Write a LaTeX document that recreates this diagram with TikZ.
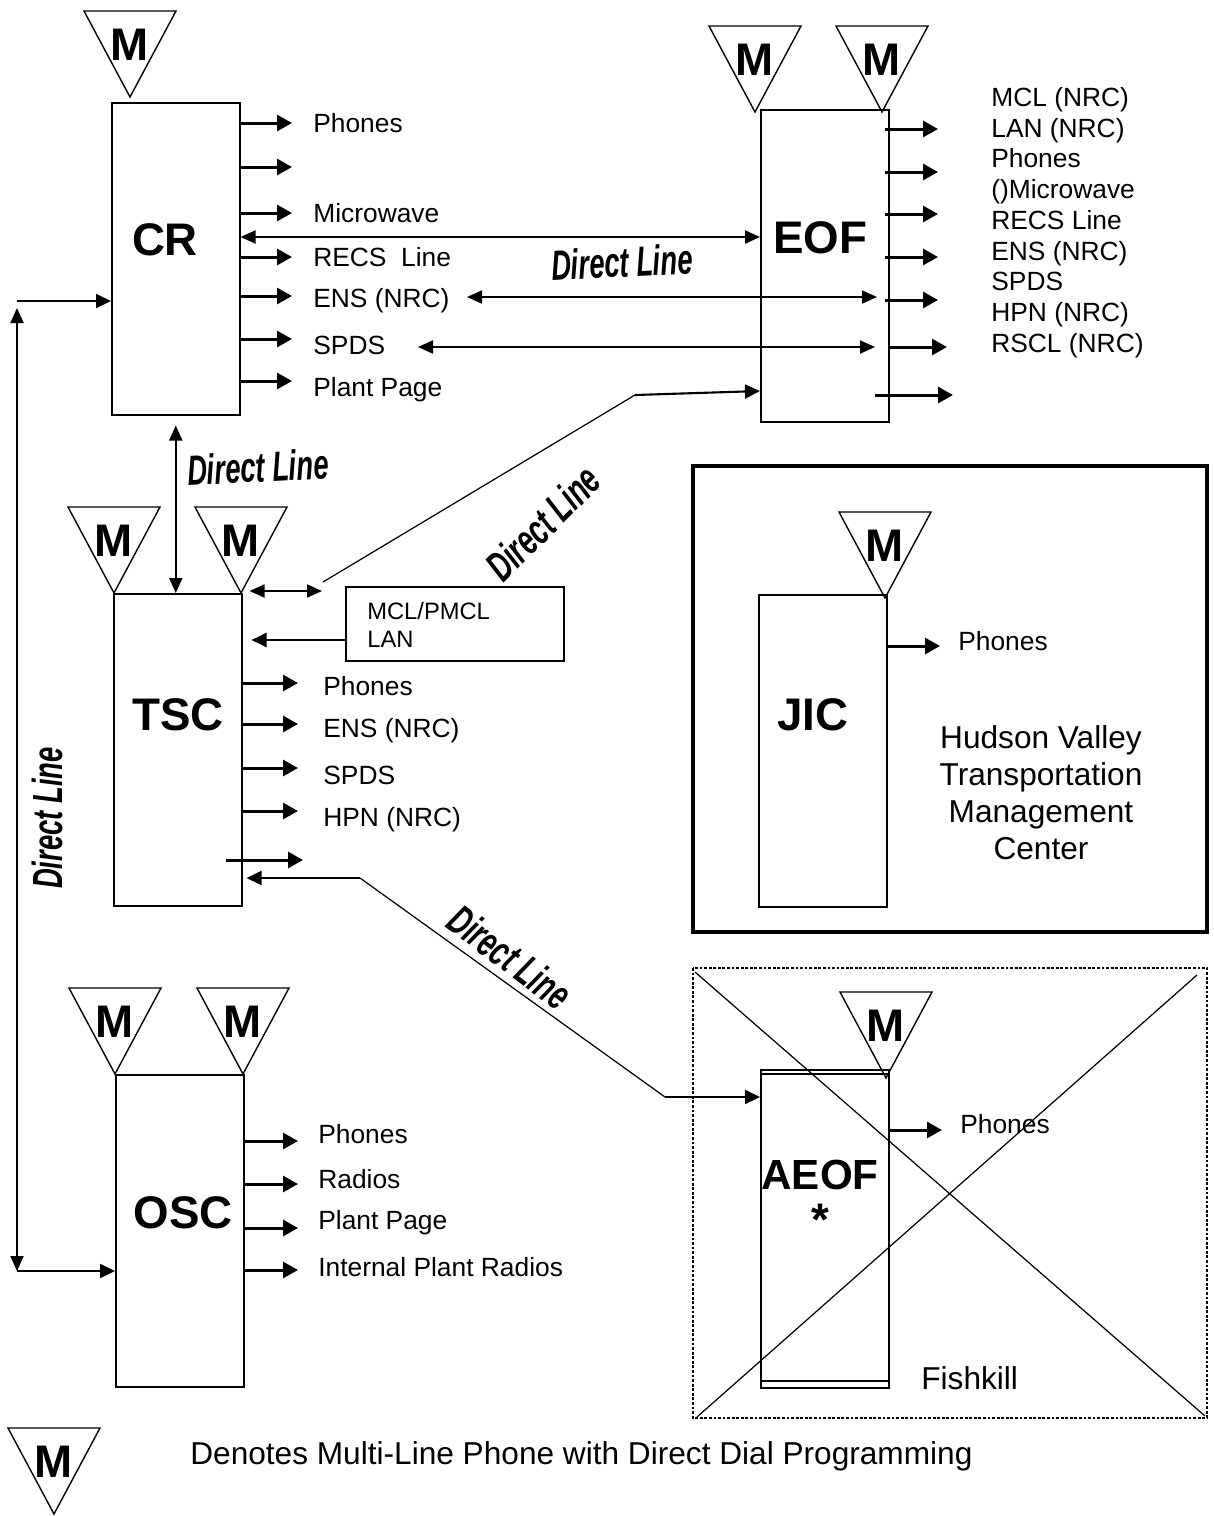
\documentclass[tikz,border=0pt]{standalone}
\usepackage{fontspec}
\setmainfont{Liberation Sans}
\usetikzlibrary{arrows.meta,calc,positioning}

\tikzset{
  unit/.style={draw, line width=0.9pt, minimum width=2.56cm, minimum height=6.24cm, inner sep=0pt, anchor=north west},
  site/.style={inner sep=0pt, font=\fontsize{26}{26}\selectfont\bfseries},
  mfont/.style={inner sep=0pt, font=\fontsize{26}{26}\selectfont\bfseries},
  item/.style={anchor=west, inner sep=0pt, font=\fontsize{15}{18}\selectfont},
  feed/.style={line width=1.7pt, -{Triangle[length=0.3cm,width=0.32cm]}},
  link/.style={line width=1.2pt, -{Triangle[length=0.3cm,width=0.28cm]}},
  dline/.style={line width=1.1pt, {Triangle[length=0.3cm,width=0.26cm]}-{Triangle[length=0.3cm,width=0.26cm]}},
  wire/.style={line width=0.7pt},
  tag/.style={rotate=#1, xscale=0.65, inner sep=0pt, font=\fontsize{24}{24}\selectfont\bfseries\itshape},
  tag/.default=0
}

% multi-line phone: name, apex
\newcommand{\phoneM}[2]{%
  \coordinate (#1) at (#2);
  \draw[line width=0.8pt] (#1) -- ++(-46,-86) -- ++(92,0) -- cycle;
  \node[mfont] (#1M) at ($(#1)+(0,-52)$) {M};}

\begin{document}
\begin{tikzpicture}[x=0.02cm,y=-0.02cm]
  \useasboundingbox (0,0) rectangle (1214,1516);

  % the sites
  \node[unit] (CR) at (111,102) {};
  \node[unit] (EOF) at (760,109) {};
  \node[unit] (TSC) at (113,593) {};
  \node[unit] (OSC) at (115,1074) {};
  \node[unit] (JIC) at (758,594) {};
  \node[unit, minimum height=6.36cm] (AEOF) at (760,1069) {};
  \draw[line width=0.9pt] (760,1074) -- (888,1074) (760,1381) -- (888,1381);

  \node[site] (CRname) at (165,240) {CR};
  \node[site] (EOFname) at (820,238) {EOF};
  \node[site] (TSCname) at (178,715) {TSC};
  \node[site] (OSCname) at (183,1213) {OSC};
  \node[site] (JICname) at (813,715) {JIC};
  \node[site, font=\fontsize{24}{24}\selectfont\bfseries] (AEOFname) at (820,1175) {AEOF};
  \node[site] (AEOFstar) at (820,1220) {*};

  % phones
  \phoneM{crph}{130,97}
  \phoneM{eofphA}{755,112}
  \phoneM{eofphB}{882,112}
  \phoneM{tscphA}{114,593}
  \phoneM{tscphB}{241,593}
  \phoneM{oscphA}{115,1074}
  \phoneM{oscphB}{243,1074}
  \phoneM{jicph}{885,598}
  \phoneM{aeofph}{886,1078}
  \phoneM{keyph}{54,1514}

  % CR outputs
  \foreach \y/\ly/\t [count=\i] in {123/123/Phones, 167/167/{}, 213/213/Microwave,
      257/257/RECS\ \ Line, 296/301/ENS (NRC), 339/345/SPDS, 381/390/Plant Page}{
    \coordinate (cr\i) at (292,\y);
    \node[item] (crl\i) at (313,\ly) {\t};
    \draw[feed] (CR.east |- cr\i) -- (cr\i);
  }

  % EOF outputs
  \foreach \y/\xa/\xb [count=\i] in {129/885/938, 172/885/938, 214/885/938, 257/885/938,
      300/885/938, 347/888/947, 395/875/953}{
    \coordinate (ei\i) at (\xa,\y);
    \coordinate (eo\i) at (\xb,\y);
    \draw[feed] (ei\i) -- (eo\i);
  }
  \node[item, anchor=north west, align=left, font=\fontsize{15}{17.5}\selectfont] (EOFlist) at (991,87)
    {MCL (NRC)\\LAN (NRC)\\Phones\\()Microwave\\RECS Line\\ENS (NRC)\\SPDS\\HPN (NRC)\\RSCL (NRC)};

  % direct lines CR -- EOF
  \coordinate (cd) at (0,237);
  \draw[dline] (CR.east |- cd) -- (EOF.west |- cd);
  \node[tag=3] (dlA) at (622,262) {Direct Line};
  \coordinate (ensA) at (467,297);
  \coordinate (ensB) at (877,297);
  \draw[dline] (ensA) -- (ensB);
  \coordinate (spdA) at (418,347);
  \coordinate (spdB) at (875,347);
  \draw[dline] (spdA) -- (spdB);

  % CR -- TSC
  \draw[dline, shorten <=0.2cm] (CR.south) -- (CR.south |- TSC.north);
  \node[tag=3] (dlB) at (258,467) {Direct Line};

  % CR -- OSC
  \coordinate (lt) at (17,301);
  \coordinate (lb) at (17,1271);
  \draw[dline, shorten <=0.14cm] (lt) -- (lb);
  \draw[link] (lt) -- (CR.west |- lt);
  \draw[link] (lb) -- (OSC.west |- lb);
  \node[tag=90] (dlC) at (47,818) {Direct Line};

  % TSC -- EOF
  \coordinate (ta) at (322,591);
  \draw[dline, shorten <=0.14cm] (TSC.east |- ta) -- (ta);
  \coordinate (tb) at (323,582);
  \coordinate (tc) at (635,395);
  \coordinate (td) at (760,391);
  \draw[wire] (tb) -- (tc);
  \draw[link] (tc) -- (td);
  \node[tag=45] (dlD) at (543,523) {Direct Line};

  % MCL box
  \node[draw, line width=0.9pt, minimum width=4.36cm, minimum height=1.48cm, inner sep=0pt, anchor=north west] (MCL) at (345,586) {};
  \node[item, align=left, font=\fontsize{13.5}{16}\selectfont] (MCLtxt) at (367,625) {MCL/PMCL\\LAN};
  \coordinate (mw) at (345,640);
  \draw[link, shorten >=0.18cm] (mw) -- (TSC.east |- mw);

  % TSC outputs
  \foreach \y/\ly/\t [count=\i] in {683/686/Phones, 724/731/ENS (NRC), 768/775/SPDS, 811/820/HPN (NRC)}{
    \coordinate (ts\i) at (298,\y);
    \node[item] (tsl\i) at (323,\ly) {\t};
    \draw[feed] (TSC.east |- ts\i) -- (ts\i);
  }
  \coordinate (txA) at (226,860);
  \coordinate (txB) at (303,860);
  \draw[feed] (txA) -- (txB);

  % TSC -- AEOF
  \coordinate (ka) at (360,878);
  \coordinate (kb) at (665,1097);
  \draw[link, shorten >=0.08cm] (ka) -- (TSC.east |- ka);
  \draw[wire] (ka) -- (kb);
  \draw[link] (kb) -- (AEOF.west |- kb);
  \node[tag=-37] (dlE) at (510,957) {Direct Line};

  % OSC outputs
  \foreach \y/\ly/\t [count=\i] in {1141/1134/Phones, 1184/1179/Radios, 1228/1223/Plant Page,
      1270/1267/Internal Plant Radios}{
    \coordinate (os\i) at (298,\y);
    \node[item] (osl\i) at (318,\ly) {\t};
    \draw[feed] (OSC.east |- os\i) -- (os\i);
  }

  % JIC area
  \draw[line width=1.8pt] (693,466) rectangle (1207,932);
  \coordinate (jo) at (940,646);
  \draw[feed] (JIC.east |- jo) -- (jo);
  \node[item] (jicl) at (958,641) {Phones};
  \node[align=center, inner sep=0pt, font=\fontsize{18}{21}\selectfont] (hvtmc) at (1041,793)
    {Hudson Valley\\Transportation\\Management\\Center};

  % AEOF area
  \draw[line width=1.6pt, densely dotted] (693,968) rectangle (1207,1418);
  \draw[wire] (695,972) -- (1205,1416) (1197,975) -- (697,1417);
  \coordinate (ao) at (942,1130);
  \draw[feed] (AEOF.east |- ao) -- (ao);
  \node[item] (aeofl) at (960,1124) {Phones};
  \node[item, font=\fontsize{18}{18}\selectfont] (fk) at (921,1378) {Fishkill};

  % key
  \node[item, font=\fontsize{18}{18}\selectfont] (key) at (190,1456)
    {Denotes Multi-Line Phone with Direct Dial Programming};
\end{tikzpicture}
\end{document}
